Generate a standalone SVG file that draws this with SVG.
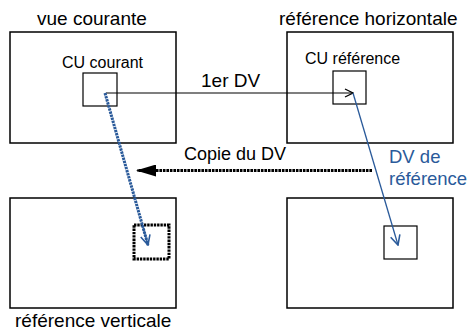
<svg xmlns="http://www.w3.org/2000/svg" width="469" height="332" viewBox="0 0 469 332">
<style>
.frame{fill:none;stroke:#000;stroke-width:1.5}
.cu{fill:none;stroke:#000;stroke-width:1.2}
.lbl{font-family:"Liberation Sans",Arial,sans-serif;font-size:19px;fill:#000}
.sm{font-family:"Liberation Sans",Arial,sans-serif;font-size:16px;fill:#000}
.blue{fill:#2a5a9a}
</style>
<defs>
<marker id="openB" viewBox="0 0 10 10" refX="9" refY="5" markerWidth="10" markerHeight="10" markerUnits="userSpaceOnUse" orient="auto">
<path d="M1,1 L9,5 L1,9" fill="none" stroke="#000" stroke-width="1.3"/>
</marker>
<marker id="openBlue" viewBox="0 0 10 10" refX="9" refY="5" markerWidth="12" markerHeight="12" markerUnits="userSpaceOnUse" orient="auto">
<path d="M1,1 L9,5 L1,9" fill="none" stroke="#2a5a9a" stroke-width="1.3"/>
</marker>
<marker id="fill" viewBox="0 0 20 12" refX="19" refY="6" markerWidth="20" markerHeight="12" markerUnits="userSpaceOnUse" orient="auto">
<path d="M0,0 L20,6 L0,12 Z" fill="#000"/>
</marker>
</defs>
<g id="vue-courante">
<rect class="frame" x="10" y="32" width="166" height="111"/>
<text class="lbl" x="37" y="25">vue courante</text>
</g>
<g id="cu-courant">
<rect class="cu" x="83" y="73" width="34" height="33"/>
<text class="sm" x="62" y="68" textLength="81" lengthAdjust="spacing">CU courant</text>
</g>
<g id="ref-horizontale">
<rect class="frame" x="287" y="32" width="166" height="111"/>
<text class="lbl" x="279" y="25">référence horizontale</text>
</g>
<g id="cu-reference">
<rect class="cu" x="333" y="71" width="33" height="33"/>
<text class="sm" x="305" y="64">CU référence</text>
</g>
<g id="ref-verticale">
<rect class="frame" x="10" y="198" width="166" height="110"/>
<text class="lbl" x="15" y="327">référence verticale</text>
</g>
<g id="cu-vertical">
<rect x="134" y="225" width="35" height="34" fill="none" stroke="#000" stroke-width="3" stroke-dasharray="2.4 0.9"/>
</g>
<g id="bas-droite">
<rect class="frame" x="287" y="198" width="166" height="110"/>
<rect class="cu" x="384" y="226" width="33" height="33"/>
</g>
<g id="connectors">
<line x1="106" y1="93" x2="353" y2="93" stroke="#000" stroke-width="1.2" marker-end="url(#openB)"/>
<text class="lbl" x="201" y="87">1er DV</text>
<line x1="372" y1="170.5" x2="137" y2="170.5" stroke="#000" stroke-width="3" stroke-dasharray="2.6 0.9" marker-end="url(#fill)"/>
<text class="lbl" x="184" y="160" style="font-size:18px">Copie du DV</text>
<line x1="105" y1="93" x2="148" y2="245" stroke="#2a5a9a" stroke-width="3" stroke-dasharray="2.4 0.8"/>
<line x1="142" y1="224" x2="148" y2="245" stroke="#2a5a9a" stroke-width="1.3" marker-end="url(#openBlue)"/>
<line x1="353" y1="93" x2="398" y2="245" stroke="#2a5a9a" stroke-width="1.3" marker-end="url(#openBlue)"/>
<text class="lbl blue" x="389" y="163" style="font-size:18.5px">DV de</text>
<text class="lbl blue" x="389" y="185" style="font-size:18.5px">référence</text>
</g>
</svg>
